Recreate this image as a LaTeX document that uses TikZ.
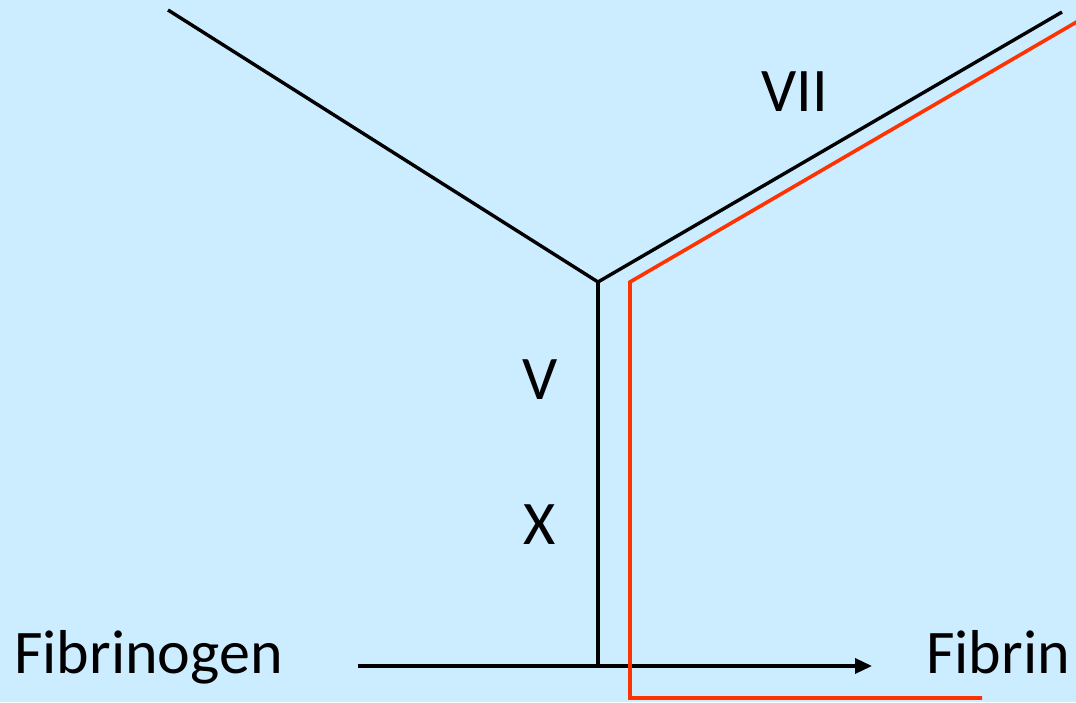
\documentclass[tikz,border=0pt]{standalone}
\usepackage{fontspec}
\setmainfont{Carlito}
\usepackage{xcolor}
\usetikzlibrary{arrows.meta,positioning}
\definecolor{SkyBg}{RGB}{204,236,255}
\definecolor{PathRed}{RGB}{255,51,0}
\tikzset{
  cascade/.style={line width=3.4pt,black},
  redpath/.style={line width=3.6pt,PathRed},
  factor/.style={font=\fontsize{62}{66}\selectfont,inner sep=0pt,anchor=base}
}

\begin{document}
\begin{tikzpicture}[x=1pt,y=1pt]
\fill[SkyBg](0,0)rectangle(1076,702);
\useasboundingbox(0,0)rectangle(1076,702);
\clip(0,0)rectangle(1076,702);
% branch points
\coordinate(tl)at(168,692);
\coordinate(tr)at(1062,690);
\coordinate(jn)at(598,420);
\coordinate(bj)at(598,36);
\coordinate(fs)at(358,36);
\coordinate(fe)at(872,36);
\coordinate(rt)at(1080,682);
\coordinate(rj)at(630,420);
\coordinate(rb)at(630,4);
\coordinate(re)at(982,4);
\draw[cascade](tl)--(jn)--(tr);
\draw[cascade](jn)--(bj);
\draw[cascade,-{Triangle[length=17pt,width=15pt]}](fs)--(fe);
\draw[redpath](rt)--(rj)--(rb)--(re);
% labels
\node[factor](vii)at(795,590){VII};
\node[factor](v)at(540,302){V};
\node[factor](x)at(540,158){X};
\node[factor,anchor=base west](fbg)at(14,29){Fibrinogen};
\node[factor,anchor=base west](fbn)at(926,29){Fibrin};
\end{tikzpicture}
\end{document}
